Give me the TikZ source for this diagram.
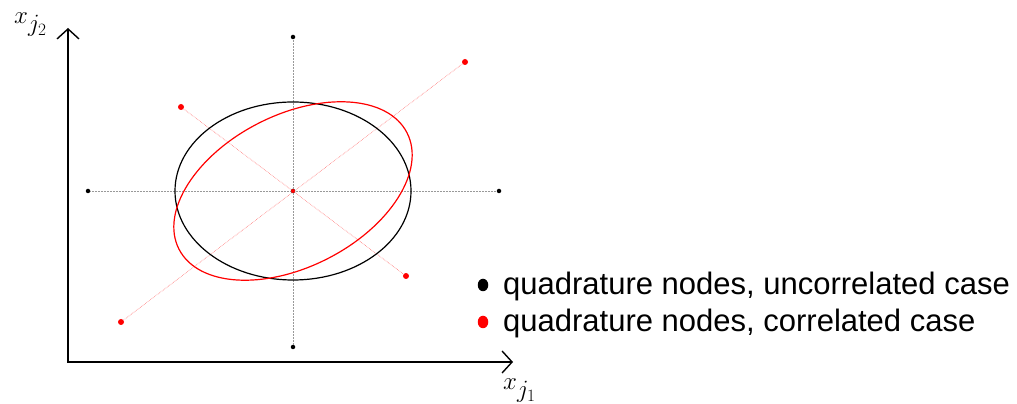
\documentclass[tikz,border=0pt]{standalone}
\usepackage{amsmath}
\usepackage{fontspec}
\setmainfont{Liberation Sans}
\usepackage{tikz}
\usetikzlibrary{positioning, arrows.meta, calc, shapes.geometric}

\begin{document}
\begin{tikzpicture}[x=1pt, y=1pt]
	\tikzset{
		blackpt/.style={circle, fill=black, minimum size=4.5pt, inner sep=0pt},
		redpt/.style={circle, fill=red, minimum size=6pt, inner sep=0pt},
		legdot/.style={ellipse, minimum width=10.5pt, minimum height=12.5pt, inner sep=0pt},
		axisline/.style={line width=1.4pt, -{Straight Barb[length=10pt, width=22pt, line width=1.4pt]}},
		gridline/.style={densely dotted, line width=0.5pt, gray!80},
		diagline/.style={densely dotted, line width=0.6pt, red!55},
		axislabel/.style={anchor=base west, inner sep=0pt, font=\fontsize{33}{36}\selectfont},
		legtext/.style={anchor=base west, inner sep=0pt, font=\fontsize{31}{34}\selectfont}
	}
	\useasboundingbox (0,0) rectangle (1017,404);
	
	% axes
	\coordinate (O) at (68,42);
	\coordinate (ytip) at (68,376);
	\coordinate (xtip) at (513,42);
	\draw[axisline] (O) -- (ytip);
	\draw[axisline] ($(O)+(-0.7,0)$) -- (xtip);
	\node[axislabel] (ylab) at (14,380) {$x_{j_2}$};
	\node[axislabel] (xlab) at (503,14) {$x_{j_1}$};
	
	% quadrature nodes, uncorrelated
	\node[blackpt] (C) at (293,213) {};
	\node[blackpt] (bT) at (293,367) {};
	\node[blackpt] (bB) at (293,57) {};
	\node[blackpt] (bL) at (88,213) {};
	\node[blackpt] (bR) at (499,213) {};
	
	% quadrature nodes, correlated
	\node[redpt] (rUR) at (465,342) {};
	\node[redpt] (rLL) at (121,82) {};
	\node[redpt] (rUL) at (181,297) {};
	\node[redpt] (rLR) at (406,128) {};
	
	\draw[gridline] (bL) -- (bR);
	\draw[gridline] (bB) -- (bT);
	\draw[diagline] (rLL) -- (rUR);
	\draw[diagline] (rUL) -- (rLR);
	
	% ellipses
	\draw[line width=1.2pt] (C) ellipse [x radius=118pt, y radius=89pt];
	\draw[line width=1.2pt, red, rotate around={27:(C)}] (C) ellipse [x radius=128pt, y radius=76pt];
	\node[redpt, minimum size=4pt] (Cr) at (C) {};
	
	% legend
	\node[legdot, fill=black] (leg1) at (483,119) {};
	\node[legdot, fill=red] (leg2) at (483,82) {};
	\node[legtext] (txt1) at (503,109) {quadrature nodes, uncorrelated case};
	\node[legtext] (txt2) at (503,72) {quadrature nodes, correlated case};
\end{tikzpicture}
\end{document}
